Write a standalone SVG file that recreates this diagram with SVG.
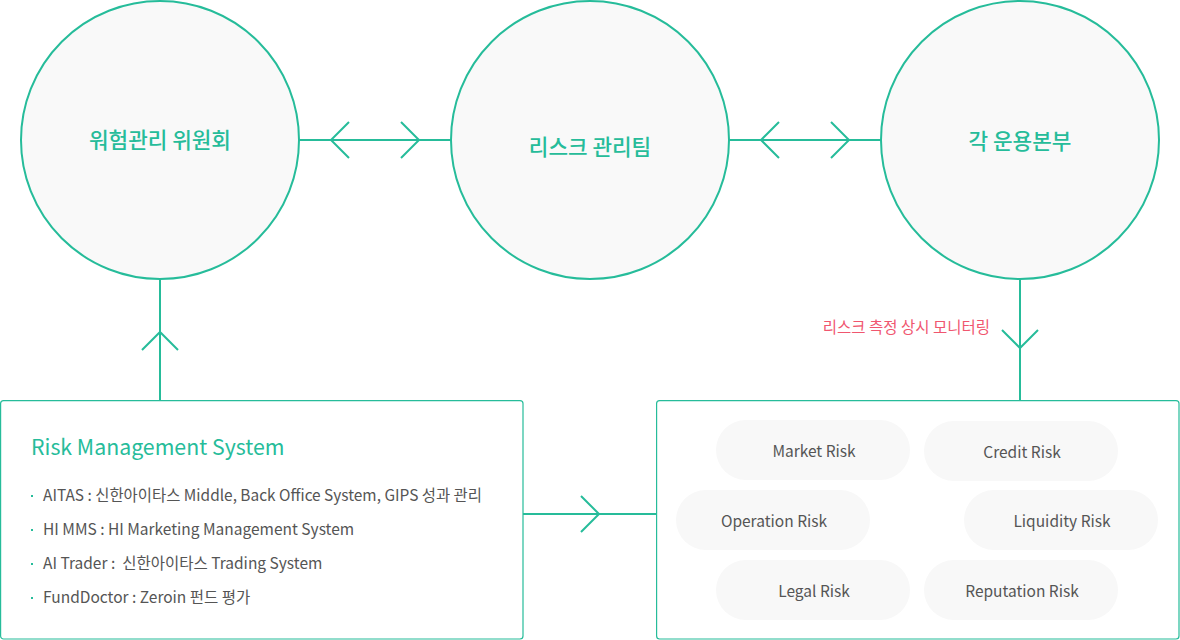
<svg xmlns="http://www.w3.org/2000/svg" width="1180" height="640" viewBox="0 0 1180 640">
<style>
.circ{fill:#f9f9f9;stroke:#26bc9a;stroke-width:2}
.ctext{font-family:"Noto Sans CJK KR","Noto Sans",sans-serif;font-size:21.3px;font-weight:500;fill:#26bc9a;text-anchor:middle}
.line{stroke:#26bc9a;stroke-width:2;fill:none}
.box{fill:#ffffff;stroke:#26bc9a;stroke-width:1.2}
.title{font-family:"Noto Sans CJK KR","Noto Sans",sans-serif;font-size:21.3px;fill:#26bc9a}
.item{font-family:"Noto Sans CJK KR","Noto Sans",sans-serif;font-size:15.5px;fill:#555555}
.bullet{fill:#26bc9a}
.pill{fill:#f8f8f8}
.ptext{font-family:"Noto Sans CJK KR","Noto Sans",sans-serif;font-size:15.5px;fill:#555555;text-anchor:middle}
.label{font-family:"Noto Sans CJK KR","Noto Sans",sans-serif;font-size:15.5px;fill:#f0566f;text-anchor:end}
</style>
<rect width="1180" height="640" fill="#ffffff"/>
<g id="connectors">
<path class="line" d="M299,140 H451 M349,122 L331,140 L349,158 M401,122 L419,140 L401,158"/>
<path class="line" d="M729,140 H881 M779,122 L761,140 L779,158 M831,122 L849,140 L831,158"/>
<path class="line" d="M160,279 V400 M142,350 L160,332 L178,350"/>
<path class="line" d="M1020,279 V400 M1002,330 L1020,348 L1038,330"/>
<path class="line" d="M523,514 H656 M581,496 L599,514 L581,532"/>
<text class="label" x="990" y="333">리스크 측정 상시 모니터링</text>
</g>
<g id="node-committee">
<circle class="circ" cx="160" cy="140" r="139"/>
<text class="ctext" x="160" y="148">워험관리 위원회</text>
</g>
<g id="node-riskteam">
<circle class="circ" cx="590" cy="140" r="139"/>
<text class="ctext" x="590" y="155">리스크 관리팀</text>
</g>
<g id="node-divisions">
<circle class="circ" cx="1020" cy="140" r="139"/>
<text class="ctext" x="1020" y="149">각 운용본부</text>
</g>
<g id="node-rms">
<rect class="box" x="0.6" y="400.6" width="522.4" height="238.4" rx="3"/>
<text class="title" x="31" y="455">Risk Management System</text>
<rect class="bullet" x="31" y="495" width="2" height="2"/>
<rect class="bullet" x="31" y="529" width="2" height="2"/>
<rect class="bullet" x="31" y="563" width="2" height="2"/>
<rect class="bullet" x="31" y="597" width="2" height="2"/>
<text class="item" x="43" y="501" textLength="439" lengthAdjust="spacingAndGlyphs">AITAS : 신한아이타스 Middle, Back Office System, GIPS 성과 관리</text>
<text class="item" x="43" y="535">HI MMS : HI Marketing Management System</text>
<text class="item" x="43" y="569" xml:space="preserve">AI Trader :  신한아이타스 Trading System</text>
<text class="item" x="43" y="603">FundDoctor : Zeroin 펀드 평가</text>
</g>
<g id="node-risks">
<rect class="box" x="656.6" y="400.6" width="522.4" height="238.4" rx="3"/>
<rect class="pill" x="716" y="420" width="194" height="60" rx="30"/>
<text class="ptext" x="814" y="457">Market Risk</text>
<rect class="pill" x="924" y="421" width="194" height="60" rx="30"/>
<text class="ptext" x="1022" y="458">Credit Risk</text>
<rect class="pill" x="676" y="490" width="194" height="60" rx="30"/>
<text class="ptext" x="774" y="527">Operation Risk</text>
<rect class="pill" x="964" y="490" width="194" height="60" rx="30"/>
<text class="ptext" x="1062" y="527">Liquidity Risk</text>
<rect class="pill" x="716" y="560" width="194" height="60" rx="30"/>
<text class="ptext" x="814" y="597">Legal Risk</text>
<rect class="pill" x="924" y="560" width="194" height="60" rx="30"/>
<text class="ptext" x="1022" y="597">Reputation Risk</text>
</g>
</svg>
